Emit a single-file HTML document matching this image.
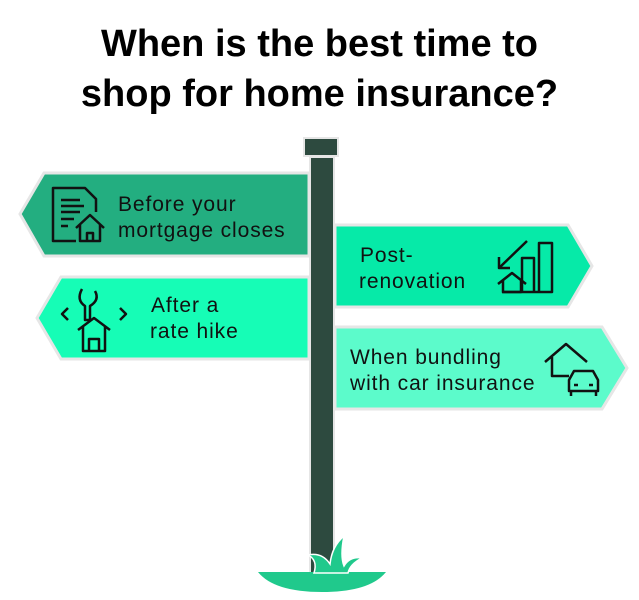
<!DOCTYPE html>
<html><head><style>
body{margin:0;width:639px;height:600px;background:#fff;overflow:hidden;position:relative;font-family:"Liberation Sans",sans-serif}
h1{position:absolute;top:19px;left:0;width:639px;margin:0;text-align:center;font-size:38px;line-height:50px;font-weight:bold;color:#000}
svg{position:absolute;left:0;top:0}
</style></head><body>
<h1>When is the best time to<br>shop for home insurance?</h1>
<svg width="639" height="600" viewBox="0 0 639 600">
<g stroke="#e6e6e6" stroke-width="3">
<polygon points="20,214 44,173 309,173 309,256 44,256" fill="#23ae80"/>
<polygon points="335,225 568,225 592,266 568,307 335,307" fill="#06eaa8"/>
<polygon points="37,318 61,277 309,277 309,359 61,359" fill="#16fdb6"/>
<polygon points="335,327 602,327 627,368 602,409 335,409" fill="#5cfbcb"/>
</g>
<rect x="304" y="138" width="34" height="18" fill="#2d4a3f" stroke="#e6e6e6" stroke-width="2"/>
<rect x="310" y="157" width="24" height="420" fill="#2d4a3f" stroke="#e6e6e6" stroke-width="2"/>
<path d="M258,572 L386,572 Q370,592 322,592 Q274,592 258,572Z" fill="#20c98c"/>
<path d="M314,573 Q318,560 308,555 Q322,552 330,564 Q332,546 344,536 Q340,556 344,566 Q350,556 362,558 Q350,564 348,573Z" fill="#20c98c" stroke="#fff" stroke-width="1.5"/>
<g fill="none" stroke="#111" stroke-width="2.5" stroke-linejoin="round">
<path d="M76,241 H53 V188 H85 L96,199 V212"/>
<path d="M61,200H80M61,206H84M61,212H80M61,219H74M61,226H68"/>
<path d="M76,228 L90,215 L104,228 M80,225 V241 H100 V225 M87,241 V233 H93 V241"/>
<path d="M82,289 Q76,300 85,306 V320 H90 V306 Q100,300 95,291"/>
<path d="M68,308 L62,314 L68,320 M120,308 L126,314 L120,320"/>
<path d="M78,330 L94,318 L110,330 M83,327 V351 H105 V327 M89,351 V339 H99 V351"/>
<path d="M527,241 L499,268 M499,257 V268 H510"/>
<path d="M498,284 L512,273 L526,284 M503,280 V292 H521 V280"/>
<path d="M522,292 V258 H534 V292 M539,292 V243 H552 V292 H502"/>
<path d="M545,362 L566,344 L587,362 M552,357 V376 H569"/>
<path d="M569,380 L574,371 H593 L598,380 V391 H569Z M571,391 V396 M596,391 V396 M574,385 H578 M589,385 H593"/>
</g>
<g font-size="21" letter-spacing="0.9" fill="#111" font-family="'Liberation Sans',sans-serif">
<text x="118" y="211">Before your</text>
<text x="118" y="237">mortgage closes</text>
<text x="360" y="262">Post-</text>
<text x="359" y="288">renovation</text>
<text x="151" y="312">After a</text>
<text x="150" y="338">rate hike</text>
<text x="350" y="364">When bundling</text>
<text x="350" y="390">with car insurance</text>
</g>
</svg>
</body></html>
